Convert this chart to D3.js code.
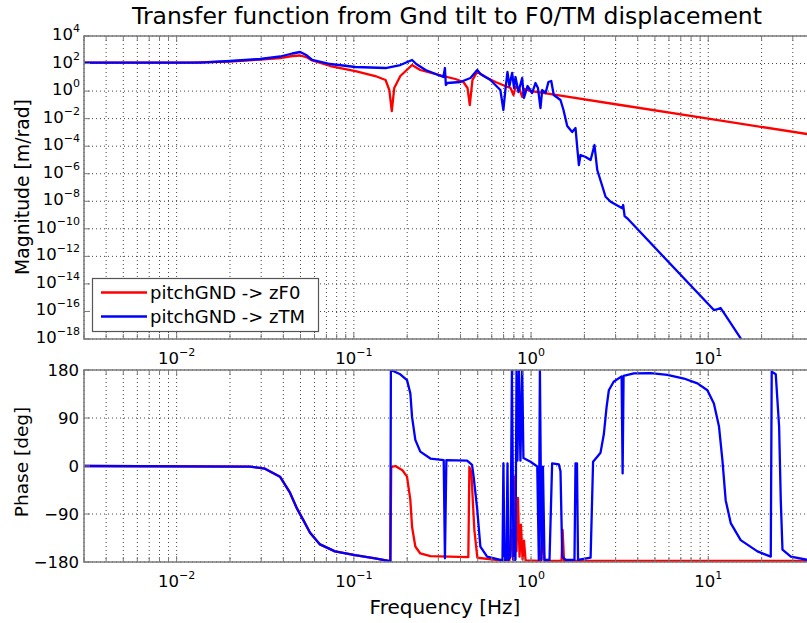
<!DOCTYPE html>
<html><head><meta charset="utf-8">
<script src="https://cdn.jsdelivr.net/npm/d3@7"></script>
<style>body{margin:0;background:#fff} text{font-family:"DejaVu Sans",sans-serif;fill:#000}</style>
</head><body><svg id="c" width="807" height="623"></svg>
<script>
const chartTitle = "Transfer function from Gnd tilt to F0/TM displacement";
const xLabel = "Frequency [Hz]";
const magLabel = "Magnitude [m/rad]";
const phaseLabel = "Phase [deg]";
const seriesNames = ["pitchGND -> zF0", "pitchGND -> zTM"];
const seriesColors = ["#ff0000", "#0000ff"];
const xMajorExp = [-2, -1, 0, 1];
const magTickExp = [4, 2, 0, -2, -4, -6, -8, -10, -12, -14, -16, -18];
const phaseTicks = [180, 90, 0, -90, -180];

const zF0MagFreq = [0.003,0.012,0.02,0.0296,0.0384,0.0449,0.0498,0.0538,0.0582,0.0736,0.102,0.132,0.151,0.1585,0.1637,0.169,0.183,0.213,0.237,0.32,0.374,0.415,0.438,0.451,0.467,0.497,0.553,0.63,0.726,0.766,0.796,0.817,0.861,0.891,0.918,1.005,1.5,3,10,40];
const zF0Mag = [115,118,141,196,253,353,384,298,166,66.3,28.7,12.4,6.38,1.2,0.0357,1.67,12.4,78.3,34.0,12.4,7.54,4.57,1.67,0.0975,6.38,25.6,10.5,4.57,2.15,1.67,0.519,1.98,1.42,0.372,1.42,0.99,0.444,0.111,0.01,6.25e-4];

const zTMMagFreq = [0.003,0.0136,0.02,0.0296,0.0384,0.0449,0.0498,0.0538,0.0582,0.0736,0.102,0.151,0.183,0.213,0.225,0.254,0.32,0.3266,0.3304,0.337,0.399,0.455,0.497,0.518,0.59,0.671,0.698,0.718,0.736,0.755,0.782,0.802,0.817,0.849,0.891,0.912,0.955,1.014,1.059,1.094,1.13,1.156,1.208,1.253,1.3,1.343,1.466,1.524,1.6,1.706,1.782,1.828,1.862,1.901,2.032,2.168,2.28,2.364,2.634,2.812,3.273,3.311,3.373,3.491,10.76,11.3,11.75,12.39,15.24,16.26];
const zTMMag = [115,117,153,214,325,536,689,417,181,92.6,56.1,47.4,78.3,181,92.6,34.0,10.5,47.4,2.77,3.86,4.57,8.91,34.0,17.4,6.38,1.2,0.0423,1.67,24.3,2.34,20.6,1.67,10.5,0.858,8.91,0.314,2.34,0.726,3.86,1.67,0.059,1.2,0.726,4.57,5.4,0.519,0.225,0.0423,2.91e-3,1.07e-3,2.08e-3,5.26e-5,4.28e-6,2.28e-5,1.63e-5,9.9e-6,1.21e-4,1.86e-6,2.14e-8,9.27e-9,3.07e-9,5.33e-9,8.48e-10,5.77e-10,1.26e-16,1.49e-16,1.77e-16,6.47e-17,1.11e-18,3.07e-19];

const zF0PhaseFreq = [0.003,0.0259,0.0315,0.0383,0.0436,0.0478,0.0516,0.0566,0.0644,0.0783,0.1015,0.1318,0.157,0.1607,0.1625,0.1714,0.188,0.1995,0.2084,0.213,0.2223,0.2371,0.2704,0.4426,0.4487,0.4603,0.4786,0.4977,0.6714,0.755,0.7745,0.7907,0.8091,0.8279,0.8433,0.861,0.877,0.8954,0.912,0.9311,1.13,1.161,1.191,1.486,1.507,1.535,40];
const zF0Phase = [0,-1,-5,-20,-50,-80,-100,-125,-147,-160,-167,-173,-178,-179,-2,0,-8,-20,-64,-114,-151,-164,-169,-171,-2,-12,-120,-172,-177,-177,-120,-175,-20,-160,-60,-170,-110,-175,-140,-177,-178,-130,-178,-178,-120,-178,-178];

const zTMPhaseFreq = [0.003,0.0259,0.0315,0.0383,0.0436,0.0478,0.0516,0.0566,0.0644,0.0783,0.1015,0.1318,0.157,0.1607,0.1618,0.1828,0.1995,0.2084,0.213,0.2223,0.2371,0.2704,0.3214,0.3266,0.3327,0.4355,0.4645,0.4742,0.497,0.5176,0.5649,0.6714,0.69,0.6982,0.7079,0.7261,0.7362,0.7447,0.7656,0.7798,0.7962,0.8166,0.8279,0.8375,0.8551,0.871,0.8913,0.9057,0.9931,1.084,1.106,1.122,1.146,1.167,1.191,1.271,1.315,1.435,1.466,1.5,1.567,1.758,1.782,1.816,1.841,2.168,2.239,2.364,2.466,2.576,2.667,2.748,2.924,3.243,3.287,3.327,3.802,4.732,5.875,7.295,8.685,9.886,10.76,11.5,12.02,12.54,13.39,15.24,18.95,22.53,22.81,24.04,25.11,25.66,26.23,29.24,36.3,40];
const zTMPhase = [0,-1,-5,-20,-50,-80,-100,-125,-147,-160,-167,-173,-178,-179,180,172,161,136,92,49,27,14,11,-173,11,10,2,-20,-82,-151,-170,-176,-176,5,-176,-176,5,-176,-170,180,-176,-176,180,10,180,10,180,15,8,-1,-176,180,-176,-1,-176,-176,5,3,-10,-170,-176,-176,5,5,-176,-172,8,17.5,25,60,110,142,158,168,-14,169,173.5,174,171,164,155,142,117,74,11,-64,-107,-139,-160,-170,177,172,74,-64,-157,-170,-176,-177];

const svg = d3.select("#c");
const plotL = 84;
const x = d3.scaleLog().domain([0.003, 40]).range([plotL, plotL + 177.2 * Math.log10(40 / 0.003)]);
const plotR = x.range()[1];
const yMag = d3.scaleLog().domain([1e-18, 1e4]).range([339, 36]);
const yPh = d3.scaleLinear().domain([-180, 180]).range([562, 370]);
const frameColor = "#7a7a7a";

function zip(a, b) { return a.map((v, i) => [v, b[i]]); }

function panel(id, y, yTickVals, yTickLabel, series) {
  const [bottom, top] = y.range();
  const g = svg.append("g");
  g.append("clipPath").attr("id", id).append("rect")
    .attr("x", plotL).attr("y", top).attr("width", plotR - plotL).attr("height", bottom - top);
  const grid = g.append("g").attr("stroke", "#444").attr("stroke-width", 1).attr("stroke-dasharray", "1,3");
  x.ticks().forEach(f => {
    grid.append("line").attr("x1", x(f)).attr("x2", x(f)).attr("y1", top).attr("y2", bottom);
  });
  yTickVals.forEach(v => {
    grid.append("line").attr("x1", plotL).attr("x2", plotR).attr("y1", y(v)).attr("y2", y(v));
  });
  const line = d3.line().x(d => x(d[0])).y(d => y(d[1]));
  const dg = g.append("g").attr("clip-path", `url(#${id})`);
  series.forEach((s, i) => {
    dg.append("path").attr("d", line(s)).attr("fill", "none")
      .attr("stroke", seriesColors[i]).attr("stroke-width", 2.3).attr("stroke-linejoin", "round");
  });
  const tk = g.append("g").attr("stroke", frameColor).attr("stroke-width", 1);
  x.ticks().forEach(f => {
    const major = Math.abs(Math.log10(f) - Math.round(Math.log10(f))) < 1e-9;
    const L = major ? 6 : 5;
    tk.append("line").attr("x1", x(f)).attr("x2", x(f)).attr("y1", bottom).attr("y2", bottom - L);
    tk.append("line").attr("x1", x(f)).attr("x2", x(f)).attr("y1", top).attr("y2", top + L);
  });
  yTickVals.forEach(v => {
    tk.append("line").attr("x1", plotL).attr("x2", plotL + 6).attr("y1", y(v)).attr("y2", y(v));
  });
  g.append("rect").attr("x", plotL).attr("y", top).attr("width", plotR - plotL).attr("height", bottom - top)
    .attr("fill", "none").attr("stroke", frameColor).attr("stroke-width", 1.5);
  yTickVals.forEach(v => yTickLabel(g, v, y(v)));
  xMajorExp.forEach(e => {
    const t = g.append("text").attr("x", x(Math.pow(10, e))).attr("y", bottom + 25)
      .attr("text-anchor", "middle").attr("font-size", 16.5);
    t.append("tspan").text("10");
    t.append("tspan").attr("dy", -8).attr("font-size", 11).text(String(e).replace("-", "\u2212"));
  });
  return g;
}

panel("clipMag", yMag, magTickExp.map(e => Math.pow(10, e)), (g, v, py) => {
  const e = Math.round(Math.log10(v));
  const t = g.append("text").attr("x", 80).attr("y", py + 4).attr("text-anchor", "end").attr("font-size", 16.5);
  t.append("tspan").text("10");
  t.append("tspan").attr("dy", -8).attr("font-size", 11).text(String(e).replace("-", "\u2212"));
}, [zip(zF0MagFreq, zF0Mag), zip(zTMMagFreq, zTMMag)]);

panel("clipPh", yPh, phaseTicks, (g, v, py) => {
  g.append("text").attr("x", 79).attr("y", py + 6).attr("text-anchor", "end").attr("font-size", 16.5)
    .text(String(v).replace("-", "\u2212"));
}, [zip(zF0PhaseFreq, zF0Phase), zip(zTMPhaseFreq, zTMPhase)]);

svg.append("text").attr("x", 447).attr("y", 24).attr("text-anchor", "middle").attr("font-size", 23.5).text(chartTitle);
svg.append("text").attr("x", 445).attr("y", 614).attr("text-anchor", "middle").attr("font-size", 20).text(xLabel);
svg.append("text").attr("transform", "translate(29,187) rotate(-90)").attr("text-anchor", "middle").attr("font-size", 18.8).text(magLabel);
svg.append("text").attr("transform", "translate(28,462) rotate(-90)").attr("text-anchor", "middle").attr("font-size", 18.5).text(phaseLabel);

const lg = svg.append("g");
lg.append("rect").attr("x", 92.5).attr("y", 278.5).attr("width", 226).attr("height", 53)
  .attr("fill", "#fff").attr("stroke", "#555").attr("stroke-width", 1.2);
seriesNames.forEach((name, i) => {
  const cy = 292.5 + i * 24;
  lg.append("line").attr("x1", 101).attr("x2", 147).attr("y1", cy).attr("y2", cy)
    .attr("stroke", seriesColors[i]).attr("stroke-width", 2.3);
  lg.append("text").attr("x", 150).attr("y", cy + 6.5).attr("font-size", 18).text(name);
});
</script></body></html>
